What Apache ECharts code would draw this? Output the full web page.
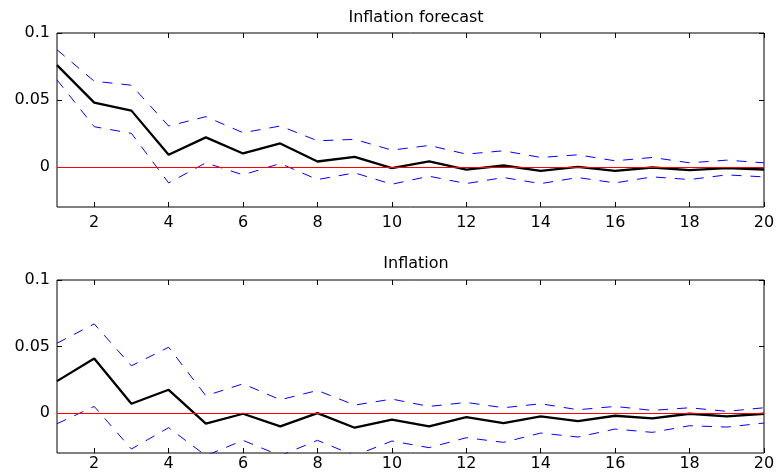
<!DOCTYPE html>
<html>
<head>
<meta charset="utf-8">
<script src="https://cdn.jsdelivr.net/npm/echarts@6/dist/echarts.min.js"></script>
<style>
html,body{margin:0;padding:0;background:#fff;}
#chart{width:778px;height:475px;}
</style>
</head>
<body>
<div id="chart"></div>
<script>
// ---- data ----
var periods = ['1','2','3','4','5','6','7','8','9','10','11','12','13','14','15','16','17','18','19','20'];
var titles = ['Inflation forecast', 'Inflation'];
var yTicks = [0, 0.05, 0.1];

var fcMean  = [0.076, 0.048, 0.042, 0.009, 0.022, 0.010, 0.0175, 0.004, 0.0075, -0.001, 0.004, -0.002, 0.001, -0.003, 0.0, -0.003, -0.0005, -0.0025, -0.001, -0.002];
var fcUpper = [0.0875, 0.064, 0.061, 0.0305, 0.0375, 0.0255, 0.0305, 0.0195, 0.0205, 0.0125, 0.016, 0.0095, 0.012, 0.007, 0.009, 0.0045, 0.007, 0.003, 0.005, 0.003];
var fcLower = [0.065, 0.030, 0.025, -0.012, 0.003, -0.006, 0.0025, -0.0095, -0.0045, -0.013, -0.007, -0.0125, -0.008, -0.0125, -0.008, -0.012, -0.0075, -0.0095, -0.006, -0.0075];

var inMean  = [0.024, 0.041, 0.007, 0.0175, -0.008, -0.0005, -0.010, 0.0, -0.011, -0.005, -0.010, -0.003, -0.0075, -0.0025, -0.006, -0.002, -0.004, -0.0005, -0.0025, -0.0005];
var inUpper = [0.0525, 0.067, 0.0355, 0.0495, 0.013, 0.022, 0.010, 0.017, 0.006, 0.0105, 0.005, 0.008, 0.004, 0.007, 0.0025, 0.005, 0.002, 0.004, 0.0013, 0.004];
var inLower = [-0.008, 0.005, -0.027, -0.011, -0.032, -0.0205, -0.032, -0.0205, -0.032, -0.021, -0.026, -0.0185, -0.022, -0.015, -0.018, -0.012, -0.0145, -0.0095, -0.0105, -0.0075];

var panels = [
  {mean: fcMean, upper: fcUpper, lower: fcLower},
  {mean: inMean, upper: inUpper, lower: inLower}
];

// ---- layout ----
var FONT = 'DejaVu Sans';
var grids = [
  {left: 57, right: 14, top: 33, height: 174},
  {left: 57, right: 14, top: 280, height: 173}
];
var xLabelMargin = [8, 3];
var titleTops = [5, 251];

var chart = echarts.init(document.getElementById('chart'), null, {renderer: 'canvas'});

var evenIdx = function (i) { return i % 2 === 1; };
var option = {
  animation: false,
  backgroundColor: '#fff',
  title: titles.map(function (t, i) {
    return {text: t, left: 411, top: titleTops[i], textAlign: 'center',
      textStyle: {fontFamily: FONT, fontSize: 16, fontWeight: 'normal', color: '#000'}};
  }),
  grid: grids.map(function (g) {
    return Object.assign({containLabel: false, show: true, borderColor: '#000', borderWidth: 1,
      backgroundColor: 'transparent'}, g);
  }),
  xAxis: [],
  yAxis: [],
  series: []
};

grids.forEach(function (g, gi) {
  // bottom x axis
  option.xAxis.push({
    type: 'category', data: periods, boundaryGap: false, gridIndex: gi, position: 'bottom',
    axisLine: {show: false, onZero: false},
    axisTick: {show: true, inside: true, length: 5, interval: evenIdx, lineStyle: {color: '#000'}},
    axisLabel: {show: true, interval: evenIdx, margin: xLabelMargin[gi], color: '#000', fontFamily: FONT, fontSize: 16},
    splitLine: {show: false}
  });
  // top x axis (ticks only)
  option.xAxis.push({
    type: 'category', data: periods, boundaryGap: false, gridIndex: gi, position: 'top',
    axisLine: {show: false, onZero: false},
    axisTick: {show: true, inside: true, length: 5, interval: evenIdx, lineStyle: {color: '#000'}},
    axisLabel: {show: false},
    splitLine: {show: false}
  });
  // left y axis
  option.yAxis.push({
    type: 'value', min: -0.03, max: 0.1, gridIndex: gi, position: 'left',
    axisLine: {show: false, onZero: false},
    axisTick: {show: true, inside: true, length: 5, customValues: yTicks, lineStyle: {color: '#000'}},
    axisLabel: {show: true, customValues: yTicks, margin: 7, color: '#000', fontFamily: FONT, fontSize: 16,
      formatter: function (v) { return String(+v.toFixed(4)); }},
    splitLine: {show: false}
  });
  // right y axis (ticks only)
  option.yAxis.push({
    type: 'value', min: -0.03, max: 0.1, gridIndex: gi, position: 'right',
    axisLine: {show: false, onZero: false},
    axisTick: {show: true, inside: true, length: 5, customValues: yTicks, lineStyle: {color: '#000'}},
    axisLabel: {show: false},
    splitLine: {show: false}
  });

  var p = panels[gi];
  var xi = gi * 2, yi = gi * 2;
  var dashed = {color: '#0000ff', width: 1, type: [10, 9]};
  option.series.push({
    type: 'line', xAxisIndex: xi, yAxisIndex: yi, data: p.upper, symbol: 'none',
    lineStyle: dashed, clip: true, z: 2,
    markLine: {silent: true, symbol: 'none', label: {show: false},
      lineStyle: {color: '#ff0000', width: 1.2, type: 'solid'},
      data: [{yAxis: 0}]}
  });
  option.series.push({
    type: 'line', xAxisIndex: xi, yAxisIndex: yi, data: p.lower, symbol: 'none',
    lineStyle: dashed, clip: true, z: 2
  });
  option.series.push({
    type: 'line', xAxisIndex: xi, yAxisIndex: yi, data: p.mean, symbol: 'none',
    lineStyle: {color: '#000', width: 2.3}, clip: true, z: 3
  });
});

chart.setOption(option);
</script>
</body>
</html>
